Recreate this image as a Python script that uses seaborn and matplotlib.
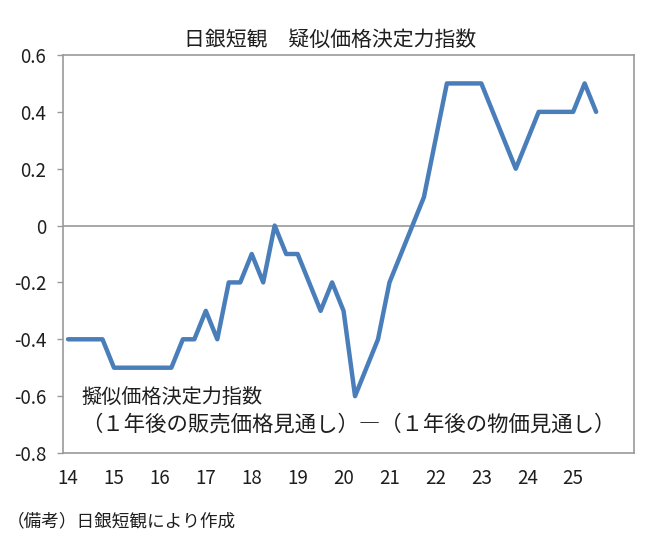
import matplotlib
matplotlib.use("Agg")
import matplotlib.pyplot as plt
import seaborn as sns
import pandas as pd
import numpy as np

# quarterly Tankan survey, 2014Q1 .. 2025Q3
values = [-0.4, -0.4, -0.4, -0.4,
          -0.5, -0.5, -0.5, -0.5, -0.5, -0.5,
          -0.4, -0.4, -0.3, -0.4,
          -0.2, -0.2, -0.1, -0.2,
          0.0, -0.1, -0.1, -0.2,
          -0.3, -0.2, -0.3, -0.6,
          -0.5, -0.4, -0.2, -0.1,
          0.0, 0.1, 0.3, 0.5,
          0.5, 0.5, 0.5, 0.4,
          0.3, 0.2, 0.3, 0.4,
          0.4, 0.4, 0.4, 0.5,
          0.4]
year_labels = ["14", "15", "16", "17", "18", "19", "20", "21", "22", "23", "24", "25"]
y_ticks = [-0.8, -0.6, -0.4, -0.2, 0.0, 0.2, 0.4, 0.6]
y_tick_labels = ["-0.8", "-0.6", "-0.4", "-0.2", "0", "0.2", "0.4", "0.6"]

title = "日銀短観　疑似価格決定力指数"
note1 = "擬似価格決定力指数"
note2 = "（１年後の販売価格見通し）―（１年後の物価見通し）"
footer = "（備考）日銀短観により作成"

sns.set_style("white")
plt.rcParams["font.family"] = ["Noto Sans CJK JP", "DejaVu Sans"]

df = pd.DataFrame({"q": np.arange(len(values)), "v": values})

W, H = 658, 547
fig = plt.figure(figsize=(W / 100, H / 100), dpi=100)
ax = fig.add_axes([63 / W, 1 - 453 / H, (634 - 63) / W, (453 - 55) / H])

ax.axhline(0, color="#a0a0a0", lw=1.3, zorder=1)
sns.lineplot(data=df, x="q", y="v", ax=ax, color="#4a7ebb", lw=3.2, zorder=3)

ax.set_xlim(-0.44, 49.3)
ax.set_ylim(-0.8, 0.6)
ax.set_yticks(y_ticks)
ax.set_yticklabels(y_tick_labels)
ax.set_xticks(np.arange(0, 4 * len(year_labels), 4))
ax.set_xticklabels(year_labels)
ax.set_xlabel("")
ax.set_ylabel("")

for s in ax.spines.values():
    s.set_color("#999999")
    s.set_linewidth(1.2)

txt = "#1e1e1e"
ax.tick_params(axis="y", which="major", length=4, width=1, color="#999999",
               pad=8, labelsize=13.5, labelcolor=txt, left=True)
ax.tick_params(axis="x", which="major", length=0, pad=11, labelsize=13.5,
               labelcolor=txt)

fig.text(330 / W, 1 - 40 / H, title, ha="center", va="center", fontsize=15, color=txt)
fig.text(81 / W, 1 - 397 / H, note1, ha="left", va="center", fontsize=14.5, color=txt)
fig.text(81 / W, 1 - 425 / H, note2, ha="left", va="center", fontsize=15.4, color=txt)
fig.text(7 / W, 1 - 521 / H, footer, ha="left", va="center", fontsize=12.7, color=txt)

fig.savefig("out.png", dpi=100)
